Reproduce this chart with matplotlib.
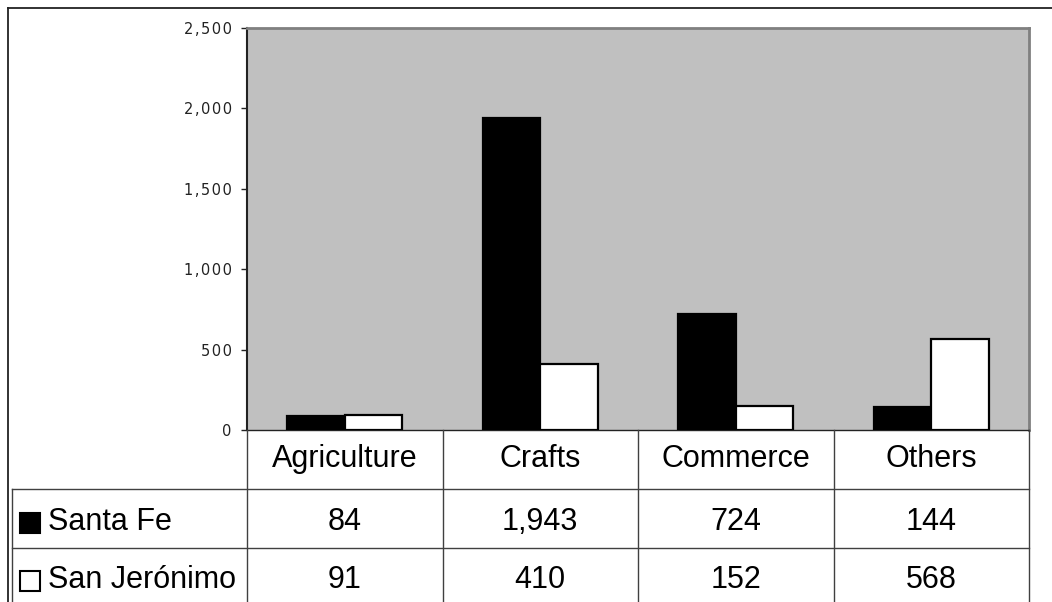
import numpy as np
import matplotlib
matplotlib.use("Agg")
import matplotlib.pyplot as plt
from matplotlib.lines import Line2D
from matplotlib.patches import Rectangle
from matplotlib.transforms import blended_transform_factory
from matplotlib.ticker import FuncFormatter

# ── data ──
categories = ["Agriculture", "Crafts", "Commerce", "Others"]
santa_fe = [84, 1943, 724, 144]
san_jeronimo = [91, 410, 152, 568]
series_names = ["Santa Fe", "San Jerónimo"]
yticks = [0, 500, 1000, 1500, 2000, 2500]

W, H = 1052, 602
GRAY = "#c0c0c0"; LINE = "#404040"
TFONT = "Liberation Sans"

fig = plt.figure(figsize=(W / 100, H / 100), dpi=100)
fig.patch.set_facecolor("white")

def fx(x): return x / W
def fy(y): return 1 - y / H

# plot area in pixel terms
L, R, T, B = 247, 1029, 28, 430
ax = fig.add_axes([fx(L), fy(B), fx(R) - fx(L), fy(T) - fy(B)])
ax.set_facecolor(GRAY)

x = np.arange(len(categories))
bw = 0.294
ax.bar(x - bw / 2, santa_fe, bw, color="black", edgecolor="black", lw=1.6, zorder=3)
ax.bar(x + bw / 2, san_jeronimo, bw, color="white", edgecolor="black", lw=1.6, zorder=3)

ax.set_xlim(-0.5, len(categories) - 0.5)
ax.set_ylim(0, 2500)
ax.set_xticks([])
ax.set_yticks(yticks)
# Excel-style spaced digits
ax.yaxis.set_major_formatter(FuncFormatter(lambda v, p: "\u200a".join(f"{int(v):,}")))
ax.tick_params(axis="y", length=4, width=1, color="#222222", pad=7,
               labelsize=10.5, labelcolor="#222222")
for s in ("top", "right"):
    ax.spines[s].set_color("#808080"); ax.spines[s].set_linewidth(2)
ax.spines["left"].set_color("#222222"); ax.spines["left"].set_linewidth(1.5)
ax.spines["bottom"].set_color("#222222"); ax.spines["bottom"].set_linewidth(1)

# ── outer chart border (cropped on the right and bottom) ──
fig.add_artist(Line2D([fx(8), fx(W + 5)], [fy(8), fy(8)], color="#222222", lw=1.3))
fig.add_artist(Line2D([fx(8), fx(8)], [fy(8), fy(H + 5)], color="#222222", lw=1.3))

# ── data table under the axis ──
tr = blended_transform_factory(ax.transData, fig.transFigure)
n = len(categories)
for i in range(n + 1):
    fig.add_artist(Line2D([i - 0.5, i - 0.5], [fy(B), fy(H + 5)], color=LINE, lw=1, transform=tr))
for yy in (489, 548):
    fig.add_artist(Line2D([fx(12), fx(R)], [fy(yy), fy(yy)], color=LINE, lw=1))
fig.add_artist(Line2D([fx(12), fx(12)], [fy(489), fy(H + 5)], color=LINE, lw=1))

FS = 22
for i, c in enumerate(categories):
    fig.text(i, fy(467), c, transform=tr, ha="center", va="baseline",
             fontsize=FS, family=TFONT)
for row, (vals, base) in enumerate(((santa_fe, 530), (san_jeronimo, 588))):
    for i, v in enumerate(vals):
        fig.text(i, fy(base), f"{v:,}", transform=tr, ha="center", va="baseline",
                 fontsize=FS, family=TFONT)
    fig.text(fx(48), fy(base), series_names[row], ha="left", va="baseline",
             fontsize=FS, family=TFONT)
    fc = "black" if row == 0 else "white"
    fig.add_artist(Rectangle((fx(20), fy(base + 3)), fx(20), fy(0) - fy(20),
                             facecolor=fc, edgecolor="black", lw=1.5))

fig.savefig("out.png", dpi=100)
